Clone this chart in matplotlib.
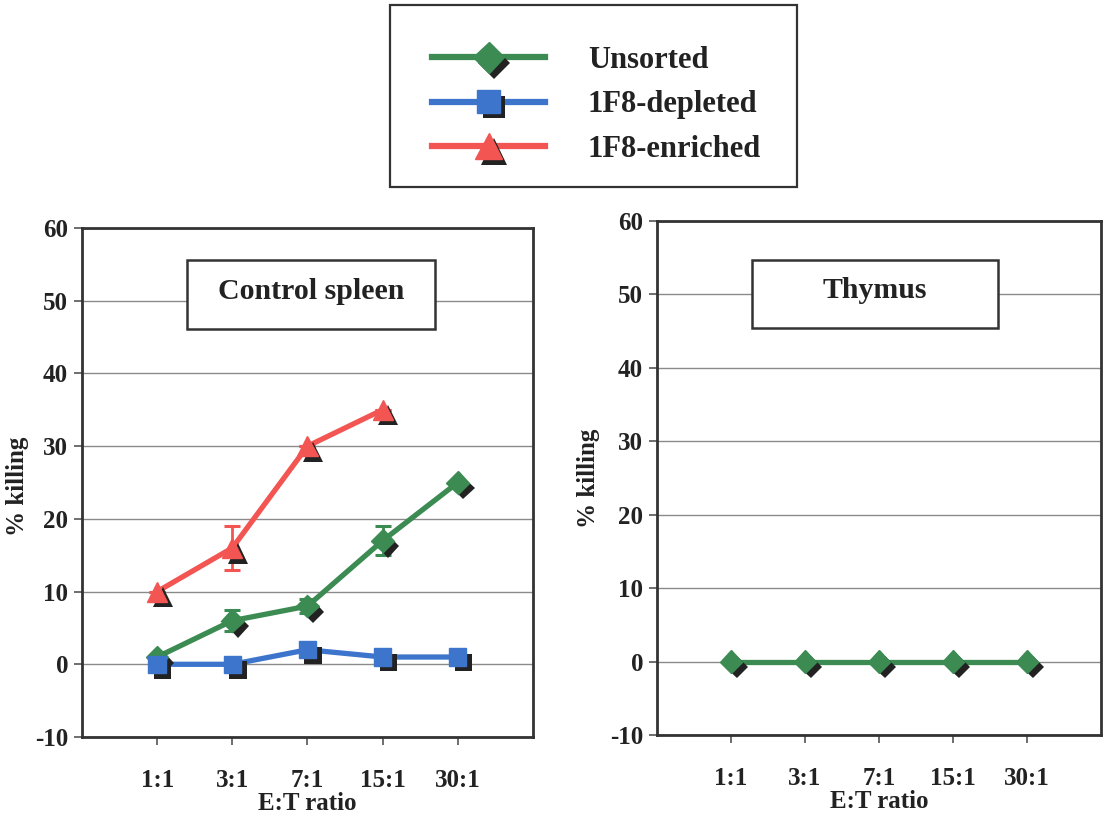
import matplotlib
matplotlib.use("Agg")
import matplotlib.pyplot as plt
import matplotlib.patheffects as pe
from matplotlib.lines import Line2D
from matplotlib.patches import Rectangle
import numpy as np

# ---- data ----
ratios = ["1:1", "3:1", "7:1", "15:1", "30:1"]
spleen_unsorted = [1, 6, 8, 17, 25]
spleen_unsorted_err = [0, 1.4, 1.0, 2.0, 0]
spleen_depleted = [0, 0, 2, 1, 1]
spleen_enriched = [10, 16, 30, 35]
spleen_enriched_err = [0, 3.0, 0, 0]
thymus_unsorted = [0, 0, 0, 0, 0]
yticks = [-10, 0, 10, 20, 30, 40, 50, 60]

GREEN = "#3b8b52"
BLUE = "#3d74cc"
RED = "#f25552"
FONT = "Liberation Serif"

plt.rcParams["font.family"] = FONT
plt.rcParams["font.weight"] = "bold"
plt.rcParams["axes.unicode_minus"] = False

W, H = 1108, 821
fig = plt.figure(figsize=(W / 100, H / 100), dpi=100)
ax1 = fig.add_axes([0.074, 0.1023, 0.407, 0.620])
ax2 = fig.add_axes([0.593, 0.1048, 0.4007, 0.626])

shadow = [pe.SimplePatchShadow(offset=(4, -4), shadow_rgbFace="#222222", alpha=1.0), pe.Normal()]


def series(ax, vals, color, marker, ms, err=None):
    x = np.arange(len(vals))
    ax.plot(x, vals, color=color, lw=3.8, zorder=3, solid_capstyle="round")
    if err is not None:
        ax.errorbar(x, vals, yerr=err, fmt="none", ecolor=color, elinewidth=2,
                    capsize=6, capthick=2.2, zorder=3)
    ax.plot(x, vals, ls="none", marker=marker, ms=ms, color=color, mec=color,
            zorder=4, path_effects=shadow)


series(ax1, spleen_unsorted, GREEN, "D", 11.5, spleen_unsorted_err)
series(ax1, spleen_depleted, BLUE, "s", 12.5)
series(ax1, spleen_enriched, RED, "^", 14.5, spleen_enriched_err)
series(ax2, thymus_unsorted, GREEN, "D", 11.5)

for ax, title, rect in [(ax1, "Control spleen", (0.233, 0.8016, 0.550, 0.1356)),
                        (ax2, "Thymus", (0.214, 0.792, 0.554, 0.132))]:
    ax.set_xlim(-1, 5)
    ax.set_ylim(-10, 60)
    ax.set_yticks(yticks)
    ax.set_xticks(range(len(ratios)))
    ax.set_xticklabels(ratios)
    ax.grid(axis="y", color="#8a8a8a", lw=1.0)
    ax.set_axisbelow(True)
    for s in ax.spines.values():
        s.set_color("#333333")
        s.set_linewidth(2.0)
    ax.tick_params(axis="both", direction="out", length=6, width=1.2, color="#555555",
                   labelsize=18, pad=4)
    ax.tick_params(axis="x", pad=17)
    for lab in ax.get_xticklabels() + ax.get_yticklabels():
        lab.set_fontweight("bold")
        lab.set_color("#222222")
    ax.set_xlabel("E:T ratio", fontsize=18, fontweight="bold", color="#222222", labelpad=0)
    r = Rectangle((rect[0], rect[1]), rect[2], rect[3], transform=ax.transAxes,
                  facecolor="white", edgecolor="#333333", lw=1.8, zorder=5)
    ax.add_patch(r)
    ax.text(rect[0] + rect[2] / 2, rect[1] + rect[3] / 2 + 0.006, title, transform=ax.transAxes,
            ha="center", va="center", fontsize=21.5, fontweight="bold", color="#222222", zorder=6)

fig.text(18 / W, 1 - 486 / H, "% killing", rotation=90, ha="center", va="center",
         fontsize=18, fontweight="bold", color="#222222")
fig.text(588 / W, 1 - 478 / H, "% killing", rotation=90, ha="center", va="center",
         fontsize=18, fontweight="bold", color="#222222")

# legend frame
fig.patches.append(Rectangle((390 / W, 1 - 187 / H), 407 / W, 182 / H, transform=fig.transFigure,
                             facecolor="white", edgecolor="#333333", lw=1.6, zorder=0))

handles = [
    Line2D([], [], color=GREEN, lw=4.5, marker="D", ms=16, mec=GREEN, path_effects=shadow),
    Line2D([], [], color=BLUE, lw=4.5, marker="s", ms=16, mec=BLUE, path_effects=shadow),
    Line2D([], [], color=RED, lw=4.5, marker="^", ms=19, mec=RED, path_effects=shadow),
]
labels = ["Unsorted", "1F8-depleted", "1F8-enriched"]
leg = fig.legend(handles, labels, loc="upper left", bbox_to_anchor=(432 / W, 1 - 46 / H),
                 frameon=False, handlelength=3.7, handletextpad=1.4,
                 borderpad=0, labelspacing=0.5, borderaxespad=0,
                 prop={"family": FONT, "weight": "bold", "size": 22})
for t in leg.get_texts():
    t.set_color("#222222")

fig.savefig("out.png", dpi=100)
